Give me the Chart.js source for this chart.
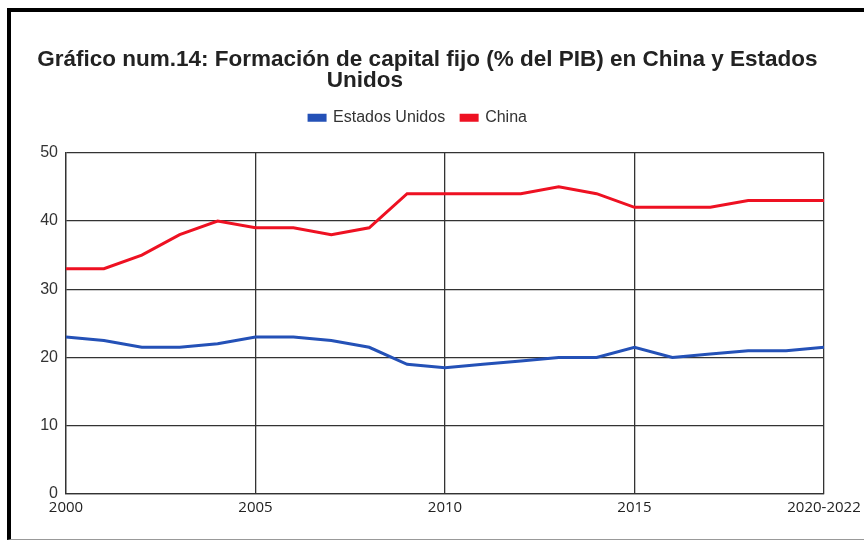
<!DOCTYPE html>
<html>
<head>
<meta charset="utf-8">
<script src="https://cdn.jsdelivr.net/npm/chart.js@4.4.0/dist/chart.umd.min.js"></script>
<style>
  html, body { margin: 0; padding: 0; background: #fff; overflow: hidden; }
  #wrap { position: relative; width: 864px; height: 541px; }
  #frame {
    position: absolute; left: 7px; top: 8px; width: 900px; height: 527px;
    border-left: 4px solid #000; border-top: 4px solid #000; border-bottom: 1px solid #999;
    pointer-events: none;
  }
  canvas { position: absolute; left: 0; top: 0; }
</style>
</head>
<body>
<div id="wrap">
  <canvas id="chart" width="864" height="541"></canvas>
  <div id="frame"></div>
</div>
<script>
// Chart data
const years = ['2000', '2001', '2002', '2003', '2004', '2005', '2006', '2007', '2008', '2009',
    '2010', '2011', '2012', '2013', '2014', '2015', '2016', '2017', '2018', '2019', '2020-2022'];
const usValues = [23, 22.5, 21.5, 21.5, 22, 23, 23, 22.5, 21.5, 19,
    18.5, 19, 19.5, 20, 20, 21.5, 20, 20.5, 21, 21, 21.5];
const chinaValues = [33, 33, 35, 38, 40, 39, 39, 38, 39, 44,
    44, 44, 44, 45, 44, 42, 42, 42, 43, 43, 43];
const yTicks = [0, 10, 20, 30, 40, 50];

// the wrapped second line sits left of centre in the original, so pad with spaces
const titleLines = [
    '\u00a0'.repeat(3) + 'Gráfico num.14: Formación de capital fijo (% del PIB) en China y Estados',
    'Unidos' + '\u00a0'.repeat(17)
];

const gridColor = '#333';

// extra room between legend and plot area
const legendGap = {
    id: 'legendGap',
    beforeInit(chart) {
        const fit = chart.legend.fit;
        chart.legend.fit = function () {
            fit.bind(chart.legend)();
            this.height += 17;
        };
    }
};

const ctx = document.getElementById('chart').getContext('2d');
new Chart(ctx, {
    type: 'line',
    data: {
        labels: years,
        datasets: [
            {
                label: 'Estados Unidos',
                data: usValues,
                borderColor: '#2451b7',
                backgroundColor: '#2451b7',
                borderWidth: 3,
                pointRadius: 0,
                tension: 0
            },
            {
                label: 'China',
                data: chinaValues,
                borderColor: '#ee1122',
                backgroundColor: '#ee1122',
                borderWidth: 3,
                pointRadius: 0,
                tension: 0
            }
        ]
    },
    plugins: [legendGap],
    options: {
        responsive: false,
        animation: false,
        layout: {
            padding: { left: 12, right: 40, top: 49, bottom: 19 }
        },
        plugins: {
            title: {
                display: true,
                text: titleLines,
                color: '#222',
                font: { family: 'Liberation Sans', size: 22.5, weight: 'bold', lineHeight: 0.95 },
                padding: { top: 0, bottom: 2 }
            },
            legend: {
                display: true,
                position: 'top',
                labels: {
                    color: '#333',
                    font: { family: 'Liberation Sans', size: 16 },
                    boxWidth: 16,
                    boxHeight: 5,
                    padding: 16
                }
            },
            tooltip: { enabled: false }
        },
        scales: {
            x: {
                grid: {
                    color: c => (c.index % 5 === 0 ? gridColor : 'rgba(0,0,0,0)'),
                    lineWidth: 1.3,
                    drawTicks: false
                },
                border: { color: gridColor, width: 1.3 },
                ticks: {
                    autoSkip: false,
                    maxRotation: 0,
                    padding: 5,
                    color: '#222',
                    font: { family: 'Open Sans', size: 15 },
                    callback: (v, i) => (i % 5 === 0 ? years[i] : '')
                },
                afterFit: s => { s.paddingLeft = 0; s.paddingRight = 0; }
            },
            y: {
                min: yTicks[0],
                max: yTicks[yTicks.length - 1],
                afterBuildTicks: s => { s.ticks = yTicks.map(v => ({ value: v })); },
                grid: { color: gridColor, lineWidth: 1.3, drawTicks: false },
                border: { color: gridColor, width: 1.3 },
                ticks: {
                    padding: 8,
                    color: '#333',
                    font: { family: 'Liberation Sans', size: 16 }
                },
                afterFit: s => { s.width = 54; }
            }
        }
    }
});
</script>
</body>
</html>
